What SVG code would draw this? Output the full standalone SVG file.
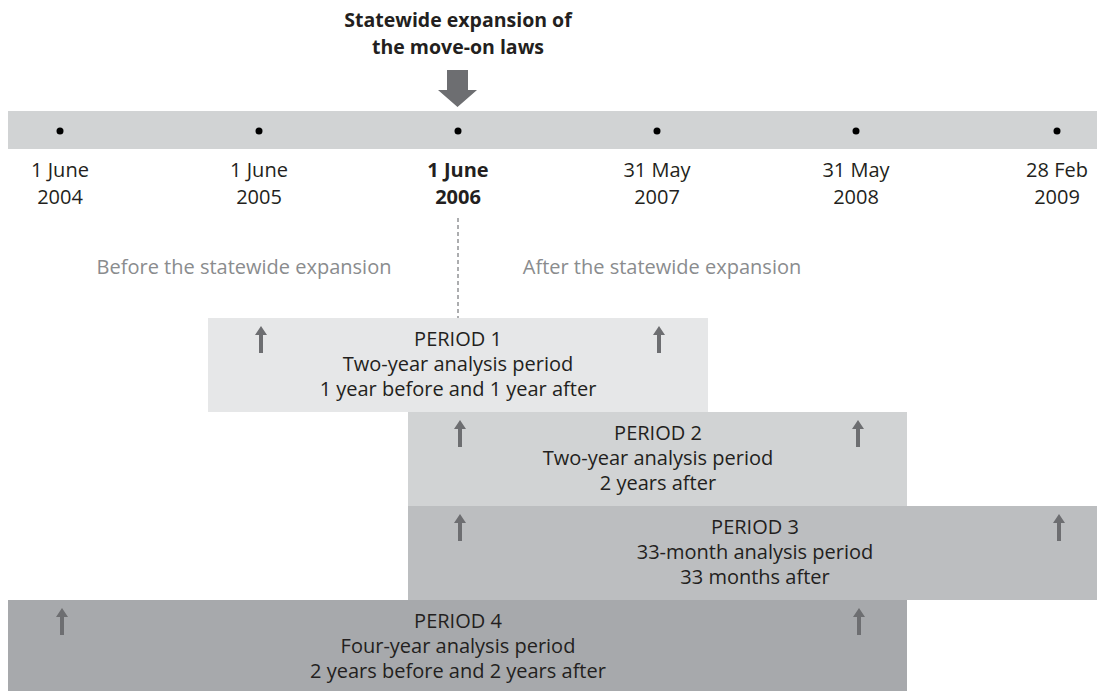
<svg xmlns="http://www.w3.org/2000/svg" width="1097" height="691" viewBox="0 0 1097 691">
<style>
text{font-family:"Open Sans","DejaVu Sans",sans-serif;fill:#231f20;text-anchor:middle}
.t{font-size:20px}
.d{font-size:20px}
.b{font-weight:bold}
.g{font-size:20px;fill:#8a8c8e}
.ttl{font-size:19.5px;font-weight:bold}
.dot{fill:#000}
.up{fill:#6d6e71}
</style>
<defs>
<path id="upArrow" d="M0,0 L6,9 L2,9 L2,27 L-2,27 L-2,9 L-6,9 Z" class="up"/>
</defs>
<rect width="1097" height="691" fill="#fff"/>

<g id="title">
<text class="ttl" x="458" y="27">Statewide expansion of</text>
<text class="ttl" x="458" y="54">the move-on laws</text>
</g>

<g id="timeline">
<rect x="8" y="111" width="1089" height="38" fill="#d1d3d4"/>
<circle class="dot" cx="60" cy="131" r="3.5"/>
<circle class="dot" cx="259" cy="131" r="3.5"/>
<circle class="dot" cx="458" cy="131" r="3.5"/>
<circle class="dot" cx="657" cy="131" r="3.5"/>
<circle class="dot" cx="856" cy="131" r="3.5"/>
<circle class="dot" cx="1057" cy="131" r="3.5"/>
<text class="d" x="60" y="177">1 June</text><text class="d" x="60" y="204">2004</text>
<text class="d" x="259" y="177">1 June</text><text class="d" x="259" y="204">2005</text>
<text class="d b" x="458" y="177">1 June</text><text class="d b" x="458" y="204">2006</text>
<text class="d" x="657" y="177">31 May</text><text class="d" x="657" y="204">2007</text>
<text class="d" x="856" y="177">31 May</text><text class="d" x="856" y="204">2008</text>
<text class="d" x="1057" y="177">28 Feb</text><text class="d" x="1057" y="204">2009</text>
</g>

<g id="labels">
<text class="g" x="244" y="274">Before the statewide expansion</text>
<text class="g" x="662" y="274">After the statewide expansion</text>
</g>

<g id="connectors">
<path d="M447,70 H468 V90 H477 L457.5,107 L438,90 H447 Z" fill="#6d6e71"/>
<line x1="458" y1="218" x2="458" y2="318" stroke="#808285" stroke-width="1.3" stroke-dasharray="4,3"/>
</g>

<g id="period1">
<rect x="208" y="318" width="500" height="94" fill="#e6e7e8"/>
<use href="#upArrow" x="261" y="326"/>
<use href="#upArrow" x="659" y="326"/>
<text class="t" x="458" y="346">PERIOD 1</text>
<text class="t" x="458" y="371">Two-year analysis period</text>
<text class="t" x="458" y="396">1 year before and 1 year after</text>
</g>

<g id="period2">
<rect x="408" y="412" width="499" height="94" fill="#d1d3d4"/>
<use href="#upArrow" x="460" y="420"/>
<use href="#upArrow" x="858" y="420"/>
<text class="t" x="658" y="440">PERIOD 2</text>
<text class="t" x="658" y="465">Two-year analysis period</text>
<text class="t" x="658" y="490">2 years after</text>
</g>

<g id="period3">
<rect x="408" y="506" width="689" height="94" fill="#bcbec0"/>
<use href="#upArrow" x="460" y="514"/>
<use href="#upArrow" x="1059" y="514"/>
<text class="t" x="755" y="534">PERIOD 3</text>
<text class="t" x="755" y="559">33-month analysis period</text>
<text class="t" x="755" y="584">33 months after</text>
</g>

<g id="period4">
<rect x="8" y="600" width="899" height="91" fill="#a7a9ac"/>
<use href="#upArrow" x="62" y="608"/>
<use href="#upArrow" x="859" y="608"/>
<text class="t" x="458" y="628">PERIOD 4</text>
<text class="t" x="458" y="653">Four-year analysis period</text>
<text class="t" x="458" y="678">2 years before and 2 years after</text>
</g>
</svg>
